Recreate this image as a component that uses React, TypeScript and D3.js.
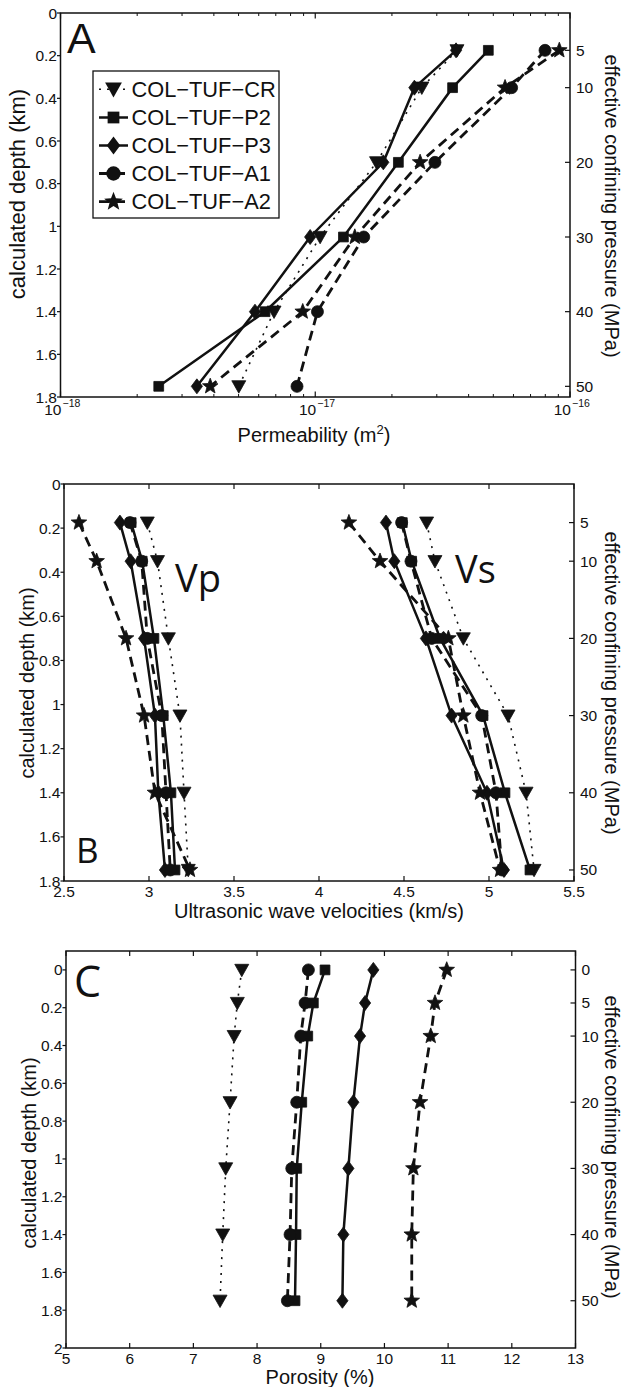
import React from 'react';
import * as d3 from 'd3';

// ---------------- data ----------------
const depthKm = [0.175, 0.35, 0.7, 1.05, 1.4, 1.75];
const depthPorosityKm = [0, 0.175, 0.35, 0.7, 1.05, 1.4, 1.75];
const pressureTicksMPa = [5, 10, 20, 30, 40, 50];
const pressureTicksPorosityMPa = [0, 5, 10, 20, 30, 40, 50];
const kmPerMPa = 0.035;

const sampleNames = ['COL\u2212TUF\u2212CR', 'COL\u2212TUF\u2212P2', 'COL\u2212TUF\u2212P3', 'COL\u2212TUF\u2212A1', 'COL\u2212TUF\u2212A2'];

// Permeability (m^2)
const permCR = [3.6e-17, 2.62e-17, 1.74e-17, 1.045e-17, 6.89e-18, 5.01e-18];
const permP2 = [4.78e-17, 3.46e-17, 2.12e-17, 1.29e-17, 6.35e-18, 2.43e-18];
const permP3 = [3.57e-17, 2.45e-17, 1.85e-17, 9.55e-18, 5.8e-18, 3.43e-18];
const permA1 = [7.98e-17, 5.9e-17, 2.95e-17, 1.55e-17, 1.02e-17, 8.48e-18];
const permA2 = [9.08e-17, 5.56e-17, 2.58e-17, 1.43e-17, 8.93e-18, 3.87e-18];

// P-wave velocity (km/s)
const vpCR = [2.99, 3.05, 3.114, 3.182, 3.206, 3.231];
const vpP2 = [2.895, 2.96, 3.029, 3.084, 3.129, 3.153];
const vpP3 = [2.829, 2.892, 2.971, 3.035, 3.055, 3.094];
const vpA1 = [2.888, 2.957, 2.99, 3.075, 3.1, 3.125];
const vpA2 = [2.588, 2.692, 2.865, 2.971, 3.035, 3.241];

// S-wave velocity (km/s)
const vsCR = [4.633, 4.682, 4.849, 5.112, 5.218, 5.265];
const vsP2 = [4.49, 4.545, 4.712, 4.965, 5.094, 5.241];
const vsP3 = [4.394, 4.443, 4.629, 4.78, 4.988, 5.088];
const vsA1 = [4.486, 4.541, 4.663, 4.957, 5.041, 5.076];
const vsA2 = [4.176, 4.359, 4.761, 4.849, 4.947, 5.065];

// Porosity (%)
const porCR = [7.76, 7.69, 7.64, 7.576, 7.508, 7.461, 7.419];
const porP2 = [9.067, 8.884, 8.796, 8.702, 8.623, 8.612, 8.596];
const porP3 = [9.826, 9.696, 9.617, 9.512, 9.434, 9.355, 9.34];
const porA1 = [8.806, 8.754, 8.686, 8.623, 8.545, 8.518, 8.476];
const porA2 = [10.978, 10.794, 10.727, 10.559, 10.454, 10.429, 10.429];

const depthTicksAB = [0, 0.2, 0.4, 0.6, 0.8, 1, 1.2, 1.4, 1.6, 1.8];
const depthTicksC = [0, 0.2, 0.4, 0.6, 0.8, 1, 1.2, 1.4, 1.6, 1.8, 2];
const velocityTicks = [2.5, 3, 3.5, 4, 4.5, 5, 5.5];
const porosityTicks = [5, 6, 7, 8, 9, 10, 11, 12, 13];
const permDecades = [-18, -17, -16];

// ---------------- styles ----------------
const markerKinds = ['tri', 'sq', 'dia', 'circ', 'star'];
const lineKinds = ['dot', 'solid', 'solid', 'dash', 'dash'];
const FONT = "'Liberation Sans', Arial, Helvetica, sans-serif";
const FONT2 = "'Open Sans', 'Liberation Sans', sans-serif";

function markerPath(kind: string, k = 1): string {
  switch (kind) {
    case 'tri':
      return `M${-7 * k},${-5.6 * k}L${7 * k},${-5.6 * k}L0,${6.8 * k}Z`;
    case 'sq': {
      const s = 4.9 * k;
      return `M${-s},${-s}L${s},${-s}L${s},${s}L${-s},${s}Z`;
    }
    case 'dia':
      return `M0,${-7.5 * k}L${5.6 * k},0L0,${7.5 * k}L${-5.6 * k},0Z`;
    case 'circ': {
      const r = 6 * k;
      return `M${r},0A${r},${r} 0 1,1 ${-r},0A${r},${r} 0 1,1 ${r},0Z`;
    }
    case 'star': {
      const R = 8.2 * k, r = 3.5 * k;
      const pts: string[] = [];
      for (let i = 0; i < 10; i++) {
        const a = -Math.PI / 2 + (i * Math.PI) / 5;
        const rr = i % 2 === 0 ? R : r;
        pts.push(`${(rr * Math.cos(a)).toFixed(2)},${(rr * Math.sin(a)).toFixed(2)}`);
      }
      return 'M' + pts.join('L') + 'Z';
    }
  }
  return '';
}

function lineStyle(kind: string) {
  if (kind === 'dot') return { strokeWidth: 1.6, strokeDasharray: '2,6' };
  if (kind === 'dash') return { strokeWidth: 2.8, strokeDasharray: '10,6' };
  return { strokeWidth: 2.5, strokeDasharray: undefined as any };
}

type Series = { xs: number[]; ys: number[]; marker: string; line: string };

function SeriesMarks({ s, x, y }: { s: Series; x: (v: number) => number; y: (v: number) => number }) {
  const pts: [number, number][] = s.xs.map((v, i) => [x(v), y(s.ys[i])]);
  const line = d3.line()(pts) || '';
  const ls = lineStyle(s.line);
  return (
    <g>
      <path d={line} fill="none" stroke="#111" strokeWidth={ls.strokeWidth} strokeDasharray={ls.strokeDasharray} strokeLinecap="butt" />
      {pts.map((p, i) => (
        <path key={i} d={markerPath(s.marker)} transform={`translate(${p[0]},${p[1]})`} fill="#111" stroke="#111" strokeWidth={0.8} />
      ))}
    </g>
  );
}

function DepthFrame({ left, right, top, bottom, y, depthTicks, pTicks, ylabelX, ylabelY, ylabelSize, rlabelY }: any) {
  return (
    <g>
      <rect x={left} y={top} width={right - left} height={bottom - top} fill="none" stroke="#111" strokeWidth={1.5} />
      {depthTicks.map((t: number) => (
        <g key={'d' + t}>
          <line x1={left - 3.5} x2={left} y1={y(t)} y2={y(t)} stroke="#111" strokeWidth={1.2} />
          <text x={left - 3.5} y={y(t) + 5.5} textAnchor="end" fontFamily={FONT} fontSize={15.5} fill="#111">{String(t)}</text>
        </g>
      ))}
      {pTicks.map((p: number) => (
        <g key={'p' + p}>
          <line x1={right - 5} x2={right} y1={y(p * kmPerMPa)} y2={y(p * kmPerMPa)} stroke="#111" strokeWidth={1.2} />
          <text x={right + 6} y={y(p * kmPerMPa) + 5.5} textAnchor="start" fontFamily={FONT} fontSize={15.5} fill="#111">{String(p)}</text>
        </g>
      ))}
      <text transform={`translate(${ylabelX},${ylabelY}) rotate(-90)`} textAnchor="middle" fontFamily={FONT} fontSize={ylabelSize} fill="#111">calculated depth (km)</text>
      <text transform={`translate(605,${rlabelY}) rotate(90)`} textAnchor="middle" fontFamily={FONT} fontSize={20} fill="#111">effective confining pressure (MPa)</text>
    </g>
  );
}

function PanelA() {
  const left = 60.5, right = 570, top = 13, bottom = 397;
  const x = d3.scaleLog().domain([1e-18, 1e-16]).range([left, right]);
  const y = d3.scaleLinear().domain([0, 1.8]).range([top, bottom]);
  const data = [permCR, permP2, permP3, permA1, permA2];
  const minor: number[] = [];
  permDecades.slice(0, -1).forEach((e) => {
    for (let m = 2; m <= 9; m++) minor.push(m * Math.pow(10, e));
  });
  const major = permDecades.map((e) => Math.pow(10, e));
  const legendY = [89.3, 117.5, 145.5, 173.5, 201.7];
  return (
    <g>
      {data.map((xs, i) => (
        <SeriesMarks key={i} s={{ xs, ys: depthKm, marker: markerKinds[i], line: lineKinds[i] }} x={x} y={y} />
      ))}
      <DepthFrame left={left} right={right} top={top} bottom={bottom} y={y} depthTicks={depthTicksAB} pTicks={pressureTicksMPa} ylabelX={25} ylabelY={194} ylabelSize={22} rlabelY={206} />
      {minor.map((v) => (
        <g key={'m' + v}>
          <line x1={x(v)} x2={x(v)} y1={bottom} y2={bottom - 3} stroke="#111" strokeWidth={1} />
          <line x1={x(v)} x2={x(v)} y1={top} y2={top + 3} stroke="#111" strokeWidth={1} />
        </g>
      ))}
      {major.map((v, i) => (
        <g key={'M' + v}>
          <line x1={x(v)} x2={x(v)} y1={bottom} y2={bottom - 5.5} stroke="#111" strokeWidth={1.2} />
          <line x1={x(v)} x2={x(v)} y1={top} y2={top + 5.5} stroke="#111" strokeWidth={1.2} />
          <text x={x(v) + 1} y={414.5} textAnchor="end" fontFamily={FONT} fontSize={15.5} fill="#111">10</text>
          <text x={x(v) + 2} y={406.5} textAnchor="start" fontFamily={FONT} fontSize={10.5} fill="#111">{'\u2212' + String(-permDecades[i])}</text>
        </g>
      ))}
      <text x={314} y={442} textAnchor="middle" fontFamily={FONT} fontSize={20} fill="#111">
        Permeability (m<tspan dy={-8} fontSize={13}>2</tspan><tspan dy={8}>)</tspan>
      </text>
      <text x={67} y={53} fontFamily={FONT} fontSize={43} fill="#111">A</text>
      <rect x={93} y={71} width={186} height={147} fill="#fff" stroke="#111" strokeWidth={1.3} />
      {sampleNames.map((nm, i) => {
        const ls = lineStyle(lineKinds[i]);
        return (
          <g key={nm}>
            <line x1={99} x2={128} y1={legendY[i]} y2={legendY[i]} stroke="#111" strokeWidth={ls.strokeWidth} strokeDasharray={ls.strokeDasharray} />
            <path d={markerPath(markerKinds[i], 1.2)} transform={`translate(113.5,${legendY[i]})`} fill="#111" />
            <text x={131.5} y={legendY[i] + 7.5} fontFamily={FONT} fontSize={21.8} fill="#111">{nm}</text>
          </g>
        );
      })}
    </g>
  );
}

function PanelB() {
  const left = 64, right = 574, top = 484, bottom = 881;
  const x = d3.scaleLinear().domain([2.5, 5.5]).range([left, right]);
  const y = d3.scaleLinear().domain([0, 1.8]).range([top, bottom]);
  const vp = [vpCR, vpP2, vpP3, vpA1, vpA2];
  const vs = [vsCR, vsP2, vsP3, vsA1, vsA2];
  return (
    <g>
      {vp.map((xs, i) => (
        <SeriesMarks key={'p' + i} s={{ xs, ys: depthKm, marker: markerKinds[i], line: lineKinds[i] }} x={x} y={y} />
      ))}
      {vs.map((xs, i) => (
        <SeriesMarks key={'s' + i} s={{ xs, ys: depthKm, marker: markerKinds[i], line: lineKinds[i] }} x={x} y={y} />
      ))}
      <DepthFrame left={left} right={right} top={top} bottom={bottom} y={y} depthTicks={depthTicksAB} pTicks={pressureTicksMPa} ylabelX={34} ylabelY={683} ylabelSize={20} rlabelY={683} />
      {velocityTicks.map((t) => (
        <g key={'v' + t}>
          <line x1={x(t)} x2={x(t)} y1={bottom} y2={bottom - 5} stroke="#111" strokeWidth={1.2} />
          <line x1={x(t)} x2={x(t)} y1={top} y2={top + 5} stroke="#111" strokeWidth={1.2} />
          <text x={x(t)} y={897} textAnchor="middle" fontFamily={FONT} fontSize={15.5} fill="#111">{String(t)}</text>
        </g>
      ))}
      <text x={319} y={918} textAnchor="middle" fontFamily={FONT} fontSize={20} fill="#111">Ultrasonic wave velocities (km/s)</text>
      <text x={76} y={863} fontFamily={FONT2} fontSize={35} fill="#111">B</text>
      <text x={175} y={592} fontFamily={FONT2} fontSize={38} fill="#111">Vp</text>
      <text x={455} y={583} fontFamily={FONT2} fontSize={38} fill="#111">Vs</text>
    </g>
  );
}

function PanelC() {
  const left = 66, right = 575.5, top = 951, bottom = 1348;
  const x = d3.scaleLinear().domain([5, 13]).range([left, right]);
  const y = d3.scaleLinear().domain([-0.1, 2]).range([top, bottom]);
  const por = [porCR, porP2, porP3, porA1, porA2];
  return (
    <g>
      {por.map((xs, i) => (
        <SeriesMarks key={i} s={{ xs, ys: depthPorosityKm, marker: markerKinds[i], line: lineKinds[i] }} x={x} y={y} />
      ))}
      <DepthFrame left={left} right={right} top={top} bottom={bottom} y={y} depthTicks={depthTicksC} pTicks={pressureTicksPorosityMPa} ylabelX={36} ylabelY={1153} ylabelSize={20} rlabelY={1147} />
      {porosityTicks.map((t) => (
        <g key={'c' + t}>
          <line x1={x(t)} x2={x(t)} y1={bottom} y2={bottom - 5} stroke="#111" strokeWidth={1.2} />
          <line x1={x(t)} x2={x(t)} y1={top} y2={top + 5} stroke="#111" strokeWidth={1.2} />
          <text x={x(t)} y={1364} textAnchor="middle" fontFamily={FONT} fontSize={15.5} fill="#111">{String(t)}</text>
        </g>
      ))}
      <text x={320} y={1384} textAnchor="middle" fontFamily={FONT} fontSize={20} fill="#111">Porosity (%)</text>
      <text x={74} y={997} fontFamily={FONT2} fontSize={43} fill="#111">C</text>
    </g>
  );
}

export default function App() {
  return (
    <svg width={628} height={1387} viewBox="0 0 628 1387" style={{ position: 'absolute', left: 0, top: 0, background: '#fff' }}>
      <rect x={0} y={0} width={628} height={1387} fill="#fff" />
      <PanelA />
      <PanelB />
      <PanelC />
    </svg>
  );
}
